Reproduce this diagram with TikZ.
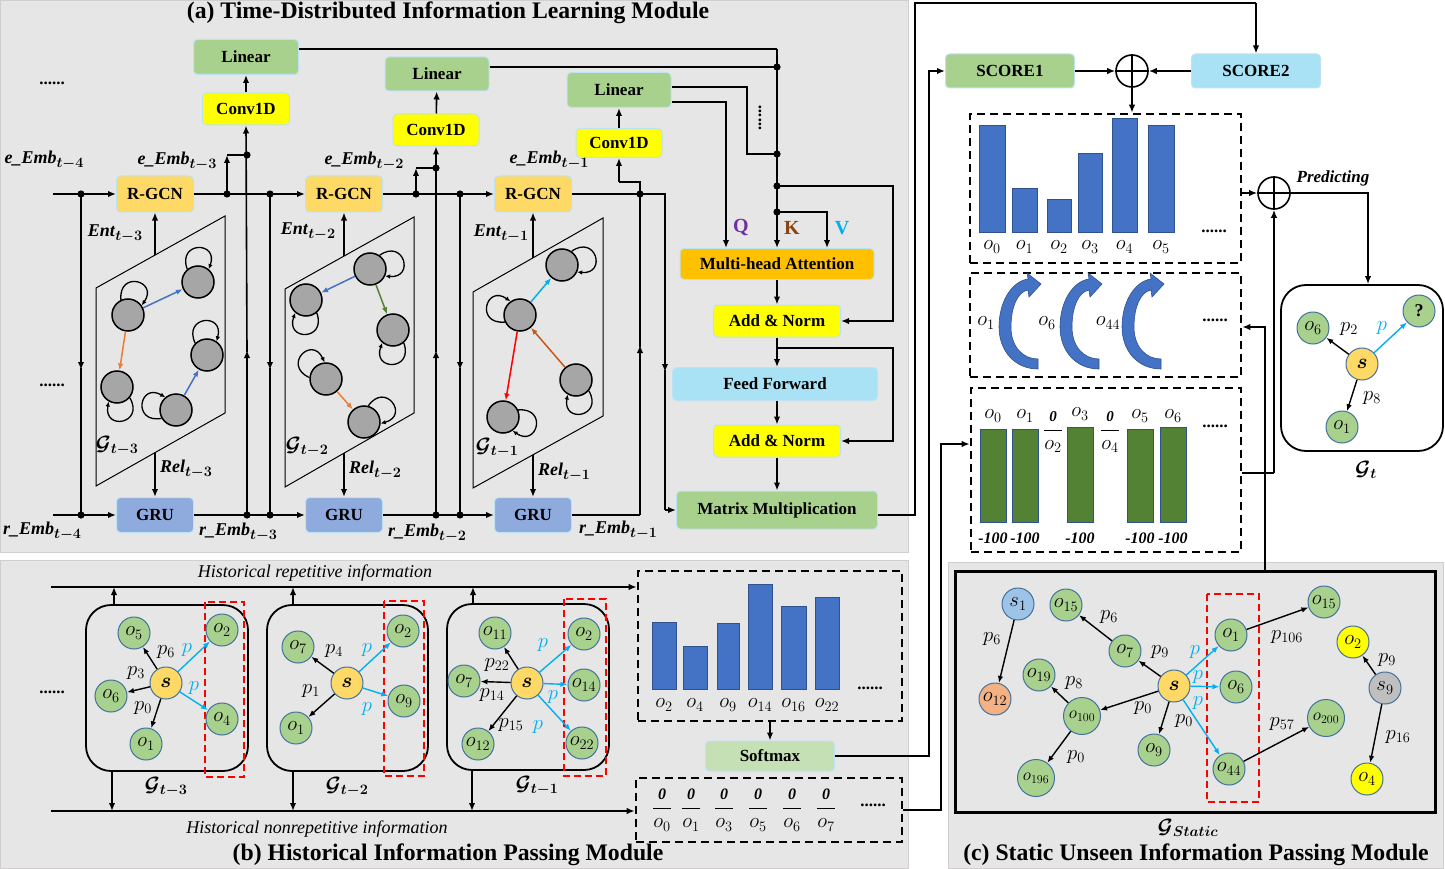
\documentclass[tikz,border=0pt]{standalone}
\usepackage{amsmath}
\usepackage{bm}
\usepackage{fontspec}
\setmainfont{Liberation Serif}
\usetikzlibrary{arrows.meta,calc}
\definecolor{panel}{HTML}{E7E6E6}
\definecolor{panelline}{HTML}{D0CECE}
\definecolor{lgreen}{HTML}{A9D18E}
\definecolor{yel}{HTML}{FFFF00}
\definecolor{rgcn}{HTML}{FFD966}
\definecolor{gruc}{HTML}{8FAADC}
\definecolor{mhac}{HTML}{FFC000}
\definecolor{lblue}{HTML}{A9E2F5}
\definecolor{smax}{HTML}{C5E0B4}
\definecolor{boxedge}{HTML}{BDE3F2}
\definecolor{barblue}{HTML}{4472C4}
\definecolor{bardark}{HTML}{2F528F}
\definecolor{bargreen}{HTML}{548235}
\definecolor{nodegray}{HTML}{A6A6A6}
\definecolor{ogreen}{HTML}{A9D18E}
\definecolor{oedge}{HTML}{41719C}
\definecolor{syel}{HTML}{FFD966}
\definecolor{cyanc}{HTML}{00B0F0}
\definecolor{qcol}{HTML}{7030A0}
\definecolor{kcol}{HTML}{8B4513}
\definecolor{blueA}{HTML}{4472C4}
\definecolor{orangeA}{HTML}{ED7D31}
\definecolor{greenA}{HTML}{548235}
\definecolor{brownA}{HTML}{C55A11}
\definecolor{s1col}{HTML}{9DC3E6}
\definecolor{o12col}{HTML}{F4B183}
\definecolor{s9col}{HTML}{BFBFBF}
\newcommand{\bi}[2]{\textbf{\textit{#1}}\raisebox{-4pt}{\fontsize{14.4}{15}\selectfont$\bm{t{-}#2}$}}
\newcommand{\zfrac}[2]{$\dfrac{\mbox{\fontsize{#2}{#2}\selectfont\textbf{\textit{0}}}}{o_{#1}}$}
\newcommand{\sloop}[2]{\pgfmathtruncatemacro\sla{#2+40}\pgfmathtruncatemacro\slb{#2-40}%
 \pgfmathtruncatemacro\slc{#2+20}\pgfmathtruncatemacro\sld{#2-20}%
 \draw[loopst] (#1.\sla) .. controls ($(#1.\sla)+(\slc:30pt)$) and ($(#1.\slb)+(\sld:30pt)$) .. (#1.\slb);}
\tikzset{
 arr/.style={-{Latex[length=8pt,width=6.5pt]}, line width=1.6pt},
 ln/.style={line width=1.6pt},
 thk/.style={line width=2.6pt},
 box/.style={rectangle, rounded corners=4pt, draw=boxedge, line width=1pt, inner sep=0pt, font=\fontsize{17}{19}\selectfont\bfseries},
 gn/.style={circle, fill=nodegray, draw=black, line width=1.5pt, minimum size=32pt, inner sep=0pt},
 onode/.style={circle, fill=ogreen, draw=oedge, line width=1pt, minimum size=32pt, inner sep=0pt, font=\fontsize{20.74}{21}\selectfont},
 onodeb/.style={onode, minimum size=37pt, font=\fontsize{17.28}{18}\selectfont},
 snode/.style={onode, fill=syel},
 lab/.style={font=\fontsize{18}{20}\selectfont, inner sep=0pt},
 mlab/.style={font=\fontsize{20.74}{22}\selectfont, inner sep=0pt},
 glab/.style={font=\fontsize{20.74}{22}\selectfont, inner sep=0pt},
 ttl/.style={font=\fontsize{23.7}{26}\selectfont\bfseries, inner sep=0pt},
 dotsl/.style={font=\fontsize{17}{19}\selectfont\bfseries, inner sep=0pt},
 garr/.style={-{Latex[length=7pt,width=5.5pt]}, line width=1.5pt},
 barr/.style={-{Latex[length=7pt,width=5.5pt]}, line width=1.4pt, black},
 carr/.style={-{Latex[length=7pt,width=5.5pt]}, line width=1.4pt, cyanc},
 loopst/.style={-{Latex[length=5pt,width=4.5pt]}, line width=1.3pt},
 dbox/.style={draw=black, line width=2.6pt, dash pattern=on 8pt off 5pt, inner sep=0pt},
 rdash/.style={draw=red, line width=2.6pt, dash pattern=on 7pt off 4pt},
 bbar/.style={fill=barblue, draw=bardark, line width=0.8pt},
 gbar/.style={fill=bargreen, draw=bardark, line width=0.8pt},
 oplus/.style={circle, draw=black, line width=1.6pt, minimum size=32pt, inner sep=0pt},
 gbox/.style={draw=black, line width=1.8pt, rounded corners=25pt, inner sep=0pt},
 carrow/.pic={\path[fill=barblue, draw=bardark, line width=0.6pt]
   (39,94) .. controls (16,94) and (0,76) .. (0,52) .. controls (0,25) and (14,6) .. (29,4)
   -- (28,-2) -- (42,9) -- (30,22) -- (29,15)
   .. controls (18,17) and (12,33) .. (12,52) .. controls (12,72) and (24,84) .. (39,84) -- cycle;}
}
\begin{document}
\begin{tikzpicture}[x=1pt,y=-1pt]
\useasboundingbox (0,0) rectangle (1445,869);
% panels
\path[fill=panel,draw=panelline,line width=1pt] (0.5,0.5) rectangle (908,552);
\path[fill=panel,draw=panelline,line width=1pt] (0.5,560) rectangle (908,868.5);
\path[fill=panel,draw=panelline,line width=1pt] (948,562) rectangle (1443,868.5);
\node[ttl] (ta) at (448,13) {(a) Time-Distributed Information Learning Module};
\node[ttl] (tb) at (448,855) {(b) Historical Information Passing Module};
\node[ttl] (tc) at (1196,855) {(c) Static Unseen Information Passing Module};

% ===== part (a) boxes
\node[box, fill=lgreen, minimum width=105pt, minimum height=35pt] (lin1) at (246,57) {Linear};
\node[box, fill=yel, minimum width=87pt, minimum height=32pt] (cv1) at (246,109) {Conv1D};
\node[box, fill=lgreen, minimum width=104pt, minimum height=34pt] (lin2) at (437,74) {Linear};
\node[box, fill=yel, minimum width=86pt, minimum height=32pt] (cv2) at (436,130) {Conv1D};
\node[box, fill=lgreen, minimum width=104pt, minimum height=35pt] (lin3) at (619,90) {Linear};
\node[box, fill=yel, minimum width=86pt, minimum height=29pt] (cv3) at (619,143) {Conv1D};
\node[box, fill=rgcn, minimum width=77pt, minimum height=36pt] (rg1) at (155,194) {R-GCN};
\node[box, fill=rgcn, minimum width=77pt, minimum height=36pt] (rg2) at (344,194) {R-GCN};
\node[box, fill=rgcn, minimum width=77pt, minimum height=36pt] (rg3) at (533,194) {R-GCN};
\node[box, fill=gruc, minimum width=77pt, minimum height=35pt] (gru1) at (155,515) {GRU};
\node[box, fill=gruc, minimum width=77pt, minimum height=35pt] (gru2) at (344,515) {GRU};
\node[box, fill=gruc, minimum width=77pt, minimum height=35pt] (gru3) at (533,515) {GRU};
\node[box, fill=mhac, minimum width=194pt, minimum height=31pt] (mha) at (777,264) {Multi-head Attention};
\node[box, fill=yel, minimum width=127pt, minimum height=32pt] (an1) at (777,321) {Add \& Norm};
\node[box, fill=lblue, minimum width=205pt, minimum height=33pt] (ff) at (775,384) {Feed Forward};
\node[box, fill=yel, minimum width=127pt, minimum height=32pt] (an2) at (777,441) {Add \& Norm};
\node[box, fill=lgreen, minimum width=201pt, minimum height=38pt] (mm) at (777,510) {Matrix Multiplication};

% e line and r line
\coordinate (eL) at (53,194);
\coordinate (rL) at (53,515);
\draw[arr] (eL) -- (rg1.west);
\draw[arr] (rg1.east) -- (rg2.west);
\draw[arr] (rg2.east) -- (rg3.west);
\draw[ln] (rg3.east) -- (665,194);
\draw[thk,-{Latex[length=8pt,width=6.5pt]}] (665,193) -- (665,372);
\draw[thk] (665,370) -- (665,510);
\draw[arr] (665,510) -- (mm.west);
\draw[arr] (rL) -- (gru1.west);
\draw[arr] (gru1.east) -- (gru2.west);
\draw[arr] (gru2.east) -- (gru3.west);
\draw[ln] (gru3.east) -- (640,515);
% verticals
\draw[arr] (81,194) -- (81,370); \draw[ln] (81,368) -- (81,515);
\draw[arr] (247,515) -- (247,350); \draw[arr] (247,352) -- (cv1.south);
\draw[arr] (227,194) -- (227,155); \draw[ln] (227,155) -- (247,155);
\draw[arr] (270,194) -- (270,370); \draw[ln] (270,368) -- (270,515);
\draw[arr] (436,515) -- (436,350); \draw[arr] (436,352) -- (cv2.south);
\draw[arr] (416,194) -- (416,168); \draw[ln] (416,168) -- (436,168);
\draw[arr] (460,194) -- (460,370); \draw[ln] (460,368) -- (460,515);
\draw[arr] (640,515) -- (640,345); \draw[ln] (640,347) -- (640,182) -- (619,182);
\draw[arr] (619,182) -- (cv3.south);
\foreach \p in {(81,194),(81,515),(247,155),(247,515),(227,194),(270,194),(270,515),(416,194),(436,168),(436,515),(460,194),(460,515),(640,194)}
  \fill \p circle[radius=3.6pt];
\draw[arr] (cv1) -- (lin1);
\draw[arr] (cv2) -- (lin2);
\draw[arr] (cv3) -- (lin3);
% to attention
\coordinate (Kt) at (777,49);
\draw[thk] ([yshift=8pt]lin1.east) -- (Kt);
\draw[thk,-{Latex[length=8pt,width=6.5pt]}] (Kt) -- (Kt |- mha.north);
\draw[ln] ([yshift=7pt]lin2.east) -- (777,67);
\draw[ln] ([yshift=3pt]lin3.east) -- (747,87) -- (747,154) -- (777,154);
\coordinate (Qc) at (726,102);
\draw[arr] ([yshift=-12pt]lin3.east) -- (Qc) -- (Qc |- mha.north);
\node[dotsl, rotate=90] (vdots) at (760,118) {......};
\coordinate (R1) at (893,186);
\draw[arr] (777,186) -- (R1) -- (R1 |- an1.east) -- (an1.east);
\coordinate (Vc) at (827,212);
\draw[arr] (777,212) -- (Vc) -- (Vc |- mha.north);
\foreach \p in {(777,67),(777,154),(777,186),(777,212)} \fill \p circle[radius=3.6pt];
\node[font=\fontsize{20}{20}\selectfont\bfseries, text=qcol] (lq) at (741,228) {Q};
\node[font=\fontsize{20}{20}\selectfont\bfseries, text=kcol] (lk) at (792,228) {K};
\node[font=\fontsize{20}{20}\selectfont\bfseries, text=cyanc] (lv) at (842,228) {V};
\draw[arr] (mha) -- (an1);
\draw[arr] (an1.south) -- (an1.south |- ff.north);
\coordinate (bp) at (777,348);
\draw[thk,-{Latex[length=8pt,width=6.5pt]}] (bp) -- (893,348) -- (893,441) -- (an2.east);
\draw[arr] (ff.south -| an2) -- (an2.north);
\draw[arr] (an2) -- (mm);

% labels (a)
\node[dotsl] (d1) at (52,83) {......};
\node[dotsl] (d2) at (52,385) {......};
\node[lab] (le4) at (44,160) {\bi{e\_Emb}{4}};
\node[lab] (le3) at (177,161) {\bi{e\_Emb}{3}};
\node[lab] (le2) at (364,161) {\bi{e\_Emb}{2}};
\node[lab] (le1) at (549,160) {\bi{e\_Emb}{1}};
\node[lab] (lr4) at (42,531) {\bi{r\_Emb}{4}};
\node[lab] (lr3) at (238,532) {\bi{r\_Emb}{3}};
\node[lab] (lr2) at (427,533) {\bi{r\_Emb}{2}};
\node[lab] (lr1) at (618,530) {\bi{r\_Emb}{1}};
\node[lab] (len3) at (115,234) {\bi{Ent}{3}};
\node[lab] (len2) at (308,232) {\bi{Ent}{2}};
\node[lab] (len1) at (501,234) {\bi{Ent}{1}};
\node[lab] (lre3) at (186,469) {\bi{Rel}{3}};
\node[lab] (lre2) at (375,470) {\bi{Rel}{2}};
\node[lab] (lre1) at (564,472) {\bi{Rel}{1}};
\node[glab] (lg3) at (117,446) {$\bm{\mathcal{G}_{t-3}}$};
\node[glab] (lg2) at (307,447) {$\bm{\mathcal{G}_{t-2}}$};
\node[glab] (lg1) at (497,448) {$\bm{\mathcal{G}_{t-1}}$};

% parallelograms
\draw[line width=1pt] (96,288) -- (225,216) -- (225,413) -- (96,486) -- cycle;
\draw[line width=1pt] (285,289) -- (414,217) -- (414,413) -- (285,487) -- cycle;
\draw[line width=1pt] (473,292) -- (603,218) -- (603,416) -- (473,488) -- cycle;
\coordinate (ent1) at (155,255); \coordinate (ent2) at (344,256); \coordinate (ent3) at (533,258);
\coordinate (rel1) at (155,453); \coordinate (rel2) at (344,453); \coordinate (rel3) at (533,455);
\draw[arr] (ent1) -- (rg1.south); \draw[arr] (ent2) -- (rg2.south); \draw[arr] (ent3) -- (rg3.south);
\draw[arr] (rel1) -- (gru1.north); \draw[arr] (rel2) -- (gru2.north); \draw[arr] (rel3) -- (gru3.north);
% graph 1
\node[gn] (a1) at (198,282) {};
\node[gn] (a2) at (128,315) {};
\node[gn] (a3) at (117,387) {};
\node[gn] (a4) at (207,355) {};
\node[gn] (a5) at (176,410) {};
\sloop{a1}{90} \sloop{a2}{75} \sloop{a3}{-80} \sloop{a4}{95} \sloop{a5}{170}
\draw[garr, blueA] (a2) -- (a1);
\draw[garr, orangeA] (a2) -- (a3);
\draw[garr, blueA] (a5) -- (a4);
% graph 2
\node[gn] (m1) at (370,269) {};
\node[gn] (m2) at (306,300) {};
\node[gn] (m3) at (393,330) {};
\node[gn] (m4) at (326,379) {};
\node[gn] (m5) at (364,422) {};
\sloop{m1}{15} \sloop{m2}{-90} \sloop{m3}{-90} \sloop{m4}{135} \sloop{m5}{35}
\draw[garr, blueA] (m1) -- (m2);
\draw[garr, greenA] (m1) -- (m3);
\draw[garr, orangeA] (m4) -- (m5);
% graph 3
\node[gn] (k1) at (562,265) {};
\node[gn] (k2) at (520,315) {};
\node[gn] (k3) at (503,417) {};
\node[gn] (k4) at (576,380) {};
\sloop{k1}{15} \sloop{k2}{165} \sloop{k3}{-15} \sloop{k4}{-80}
\draw[garr, cyanc] (k2) -- (k1);
\draw[garr, red] (k2) -- (k3);
\draw[garr, brownA] (k4) -- (k2);

% ===== part (b)
\node[dbox, minimum width=264pt, minimum height=150pt] (hbox) at (770,646) {};
\node[dbox, minimum width=266pt, minimum height=64pt] (nbox) at (769,810) {};
\coordinate (hrL) at (51,587);
\coordinate (nrL) at (51,811);
\draw[arr] (hrL) -- (hrL -| hbox.west);
\draw[arr] (nrL) -- (nrL -| nbox.west);
\node[lab, font=\fontsize{18}{20}\selectfont\itshape] (lhr) at (315,573) {Historical repetitive information};
\node[lab, font=\fontsize{18}{20}\selectfont\itshape] (lnr) at (317,829) {Historical nonrepetitive information};
\node[gbox, minimum width=162pt, minimum height=166pt] (gb1) at (167,688) {};
\node[gbox, minimum width=161pt, minimum height=166pt] (gb2) at (347.5,688) {};
\node[gbox, minimum width=162pt, minimum height=166pt] (gb3) at (528,687) {};
\coordinate (u1) at (114,587); \coordinate (u2) at (293,587); \coordinate (u3) at (473,587);
\coordinate (w1) at (112,811); \coordinate (w2) at (293,811); \coordinate (w3) at (472,811);
\draw[arr] (u1 |- gb1.north) -- (u1); \draw[arr] (u2 |- gb2.north) -- (u2); \draw[arr] (u3 |- gb3.north) -- (u3);
\draw[arr] (w1 |- gb1.south) -- (w1); \draw[arr] (w2 |- gb2.south) -- (w2); \draw[arr] (w3 |- gb3.south) -- (w3);
\draw[rdash] (205,602) rectangle (244,777);
\draw[rdash] (384,601) rectangle (424,776);
\draw[rdash] (564,599) rectangle (606,776);
\node[glab] (lbg3) at (166,787) {$\bm{\mathcal{G}_{t-3}}$};
\node[glab] (lbg2) at (347,787) {$\bm{\mathcal{G}_{t-2}}$};
\node[glab] (lbg1) at (537,786) {$\bm{\mathcal{G}_{t-1}}$};
\node[dotsl] (d3) at (52,692) {......};
% G1
\node[snode] (bs1) at (166,683) {$\bm{s}$};
\node[onode] (g1o5) at (134,633) {$o_5$};
\node[onode] (g1o2) at (222,630) {$o_2$};
\node[onode] (g1o6) at (111,696) {$o_6$};
\node[onode] (g1o4) at (222,719) {$o_4$};
\node[onode] (g1o1) at (146,744) {$o_1$};
\draw[barr] (bs1) -- (g1o5); \draw[barr] (bs1) -- (g1o6); \draw[barr] (bs1) -- (g1o1);
\draw[carr] (bs1) -- (g1o2); \draw[carr] (bs1) -- (g1o4);
\node[mlab] (p1a) at (166,652) {$p_6$};
\node[mlab, text=cyanc] (p1b) at (187,650) {$p$};
\node[mlab] (p1c) at (136,673) {$p_3$};
\node[mlab, text=cyanc] (p1d) at (194,688) {$p$};
\node[mlab] (p1e) at (143,708) {$p_0$};
% G2
\node[snode] (bs2) at (347,683) {$\bm{s}$};
\node[onode] (g2o7) at (298,647) {$o_7$};
\node[onode] (g2o2) at (403,631) {$o_2$};
\node[onode] (g2o9) at (404,701) {$o_9$};
\node[onode] (g2o1) at (296,728) {$o_1$};
\draw[barr] (bs2) -- (g2o7); \draw[barr] (bs2) -- (g2o1);
\draw[carr] (bs2) -- (g2o2); \draw[carr] (bs2) -- (g2o9);
\node[mlab] (p2a) at (334,651) {$p_4$};
\node[mlab, text=cyanc] (p2b) at (367,650) {$p$};
\node[mlab] (p2c) at (311,691) {$p_1$};
\node[mlab, text=cyanc] (p2d) at (367,709) {$p$};
% G3
\node[snode] (bs3) at (527,683) {$\bm{s}$};
\node[onode] (g3o11) at (495,633) {$o_{11}$};
\node[onode] (g3o7) at (464,681) {$o_7$};
\node[onode] (g3o12) at (478,744) {$o_{12}$};
\node[onode] (g3o2) at (584,634) {$o_2$};
\node[onode] (g3o14) at (584,685) {$o_{14}$};
\node[onode] (g3o22) at (582,743) {$o_{22}$};
\draw[barr] (bs3) -- (g3o11); \draw[barr] (bs3) -- (g3o7); \draw[barr] (bs3) -- (g3o12);
\draw[carr] (bs3) -- (g3o2); \draw[carr] (bs3) -- (g3o14); \draw[carr] (bs3) -- (g3o22);
\node[mlab] (p3a) at (497,665) {$p_{22}$};
\node[mlab] (p3b) at (492,695) {$p_{14}$};
\node[mlab] (p3c) at (511,725) {$p_{15}$};
\node[mlab, text=cyanc] (p3d) at (543,645) {$p$};
\node[mlab, text=cyanc] (p3e) at (553,697) {$p$};
\node[mlab, text=cyanc] (p3f) at (538,727) {$p$};
% bars (b)
\path[bbar] (652,622) rectangle (676,689);
\path[bbar] (683,646) rectangle (707,689);
\path[bbar] (717,623) rectangle (739,689);
\path[bbar] (748,584) rectangle (772,689);
\path[bbar] (781,606) rectangle (806,689);
\path[bbar] (815,597) rectangle (839,689);
\node[mlab] (hb1) at (664,705) {$o_2$};
\node[mlab] (hb2) at (695,705) {$o_4$};
\node[mlab] (hb3) at (728,705) {$o_9$};
\node[mlab] (hb4) at (760,705) {$o_{14}$};
\node[mlab] (hb5) at (793.5,705) {$o_{16}$};
\node[mlab] (hb6) at (827,705) {$o_{22}$};
\node[dotsl] (d4) at (870,688) {......};
\node[box, fill=smax, minimum width=129pt, minimum height=30pt] (smx) at (770,756) {Softmax};
\draw[arr] (hbox) -- (smx);
\node[mlab] (nf0) at (662,810) {\zfrac{0}{16}};
\node[mlab] (nf1) at (691,810) {\zfrac{1}{16}};
\node[mlab] (nf3) at (724,810) {\zfrac{3}{16}};
\node[mlab] (nf5) at (758,810) {\zfrac{5}{16}};
\node[mlab] (nf6) at (792,810) {\zfrac{6}{16}};
\node[mlab] (nf7) at (826,810) {\zfrac{7}{16}};
\node[dotsl] (d5) at (873,805) {......};

% ===== right upper part
\node[box, fill=lgreen, minimum width=129pt, minimum height=34pt] (sc1) at (1010,71) {SCORE1};
\node[box, fill=lblue, minimum width=129pt, minimum height=34pt] (sc2) at (1256,71) {SCORE2};
\node[oplus] (op1) at (1132,71) {};
\draw[thk] (op1.north) -- (op1.south); \draw[thk] (op1.west) -- (op1.east);
\draw[ln] ([yshift=-5pt]mm.east) -- (915,515) -- (915,3) -- (1256,3);
\draw[arr] (1256,3) -- (sc2.north);
\coordinate (sm1) at (929,756);
\draw[arr] (smx.east) -- (sm1) -- (sm1 |- sc1.west) -- (sc1.west);
\draw[arr] (sc1) -- (op1);
\draw[arr] (sc2) -- (op1);
\node[dbox, minimum width=271pt, minimum height=149pt] (b1) at (1105.5,188.5) {};
\node[dbox, minimum width=271pt, minimum height=104pt] (b2) at (1105.5,325) {};
\node[dbox, minimum width=270pt, minimum height=164pt] (b3) at (1106,470) {};
\draw[arr] (op1.south) -- (op1.south |- b1.north);
\path[bbar] (979,125) rectangle (1005,232);
\path[bbar] (1012,188) rectangle (1037,232);
\path[bbar] (1047,199) rectangle (1071,232);
\path[bbar] (1078,153) rectangle (1102,232);
\path[bbar] (1112,118) rectangle (1137,232);
\path[bbar] (1148,125) rectangle (1174,232);
\node[mlab] (rb0) at (992,247) {$o_0$};
\node[mlab] (rb1) at (1024.5,247) {$o_1$};
\node[mlab] (rb2) at (1059,247) {$o_2$};
\node[mlab] (rb3) at (1090,247) {$o_3$};
\node[mlab] (rb4) at (1124.5,247) {$o_4$};
\node[mlab] (rb5) at (1161,247) {$o_5$};
\node[dotsl] (d6) at (1214,231) {......};
% curved arrows
\pic at (999,275) {carrow};
\pic at (1060,275) {carrow};
\pic at (1122,275) {carrow};
\node[mlab] (ca1) at (986,323) {$o_1$};
\node[mlab] (ca2) at (1047,323) {$o_6$};
\node[mlab] (ca3) at (1108,323) {$o_{44}$};
\node[dotsl] (d7) at (1215,320) {......};
% green bars
\path[gbar] (980,429) rectangle (1006,522);
\path[gbar] (1012,429) rectangle (1038,522);
\path[gbar] (1067,427) rectangle (1093,522);
\path[gbar] (1127,429) rectangle (1153,522);
\path[gbar] (1160,427) rectangle (1186,522);
\node[mlab] (gl0) at (993,416) {$o_0$};
\node[mlab] (gl1) at (1025,416) {$o_1$};
\node[mlab] (gl3) at (1080,414) {$o_3$};
\node[mlab] (gl5) at (1140,416) {$o_5$};
\node[mlab] (gl6) at (1173,416) {$o_6$};
\node[mlab] (gf2) at (1053,432) {\zfrac{2}{15}};
\node[mlab] (gf4) at (1110,432) {\zfrac{4}{15}};
\foreach \x/\n in {993/m0,1025/m1,1080/m3,1140/m5,1173/m6}
  \node[lab, font=\fontsize{16}{18}\selectfont\bfseries\itshape] (h\n) at (\x,538) {-100};
\node[dotsl] (d8) at (1215,426) {......};
\coordinate (c941) at (941,444);
\draw[arr] (nbox.east) -- (nbox.east -| c941) -- (c941) -- (c941 -| b3.west);
% predicting
\node[oplus] (op2) at (1274,193) {};
\draw[thk] (op2.north) -- (op2.south); \draw[thk] (op2.west) -- (op2.east);
\draw[arr] (b1.east |- op2) -- (op2);
\node[lab, font=\fontsize{17}{19}\selectfont\bfseries\itshape] (lpred) at (1333,178) {Predicting};
\node[gbox, minimum width=162pt, minimum height=166pt] (gt) at (1362,368) {};
\coordinate (pr) at (1368,193);
\draw[arr] (op2) -- (pr) -- (pr |- gt.north);
\coordinate (q3) at (1274,473);
\draw[ln] (b3.east |- q3) -- (q3);
\draw[arr] (q3) -- (op2.south);
\node[snode] (ts) at (1362,364) {$\bm{s}$};
\node[onode] (to6) at (1313,328) {$o_6$};
\node[onode, font=\fontsize{18}{18}\selectfont\bfseries] (tq) at (1419,311) {?};
\node[onode] (to1) at (1342,427) {$o_1$};
\draw[barr] (ts) -- (to6);
\draw[barr] (ts) -- (to1);
\draw[carr] (ts) -- (tq);
\node[mlab] (tp2) at (1349,329) {$p_2$};
\node[mlab, text=cyanc] (tp) at (1382,328) {$p$};
\node[mlab] (tp8) at (1372,398) {$p_8$};
\node[glab] (lgt) at (1366,470) {$\bm{\mathcal{G}_t}$};

% ===== part (c)
\node[draw, line width=3pt, minimum width=480pt, minimum height=241pt, inner sep=0pt] (stat) at (1195,691.5) {};
\coordinate (q2) at (1265,327);
\draw[arr] (q2 |- stat.north) -- (q2) -- (q2 -| b2.east);
\node[glab] (lgs) at (1188,828) {$\bm{\mathcal{G}_{Static}}$};
\draw[rdash] (1207,594) rectangle (1259,802);
\node[onode, fill=s1col] (cs1) at (1018,604) {$s_1$};
\node[onode, fill=o12col] (co12) at (995,699) {$o_{12}$};
\node[onode] (co15a) at (1066,605) {$o_{15}$};
\node[onode] (co7) at (1125,651) {$o_7$};
\node[onode] (co19) at (1039,675) {$o_{19}$};
\node[onodeb] (co100) at (1082,716) {$o_{100}$};
\node[onodeb] (co196) at (1036,778) {$o_{196}$};
\node[snode] (cs) at (1174,686) {$\bm{s}$};
\node[onode] (co9) at (1154,750) {$o_9$};
\node[onode] (co1) at (1231,635) {$o_1$};
\node[onode] (co6) at (1236,687) {$o_6$};
\node[onode] (co44) at (1229,769) {$o_{44}$};
\node[onode] (co15b) at (1324,602) {$o_{15}$};
\node[onodeb] (co200) at (1326,718) {$o_{200}$};
\node[onode, fill=yel] (co2) at (1353,642) {$o_2$};
\node[onode, fill=s9col] (cs9) at (1385,688) {$s_9$};
\node[onode, fill=yel] (co4) at (1367,779) {$o_4$};
\draw[barr] (cs1) -- (co12);
\draw[barr] (co7) -- (co15a);
\draw[barr] (cs) -- (co7);
\draw[barr] (co100) -- (co19);
\draw[barr] (cs) -- (co100);
\draw[barr] (co100) -- (co196);
\draw[barr] (cs) -- (co9);
\draw[carr] (cs) -- (co1);
\draw[carr] (cs) -- (co6);
\draw[carr] (cs) -- (co44);
\draw[barr] (co1) -- (co15b);
\draw[barr] (co44) -- (co200);
\draw[barr] (cs9) -- (co2);
\draw[barr] (cs9) -- (co4);
\node[mlab] (cp1) at (992,639) {$p_6$};
\node[mlab] (cp2) at (1109,617) {$p_6$};
\node[mlab] (cp3) at (1160,652) {$p_9$};
\node[mlab] (cp4) at (1074,683) {$p_8$};
\node[mlab] (cp5) at (1143,708) {$p_0$};
\node[mlab] (cp6) at (1076,757) {$p_0$};
\node[mlab] (cp7) at (1184,721) {$p_0$};
\node[mlab, text=cyanc] (cp8) at (1195,652) {$p$};
\node[mlab, text=cyanc] (cp9) at (1198,677) {$p$};
\node[mlab, text=cyanc] (cp10) at (1198,703) {$p$};
\node[mlab] (cp11) at (1287,637) {$p_{106}$};
\node[mlab] (cp12) at (1282,724) {$p_{57}$};
\node[mlab] (cp13) at (1387,660) {$p_9$};
\node[mlab] (cp14) at (1398,737) {$p_{16}$};
\end{tikzpicture}
\end{document}
